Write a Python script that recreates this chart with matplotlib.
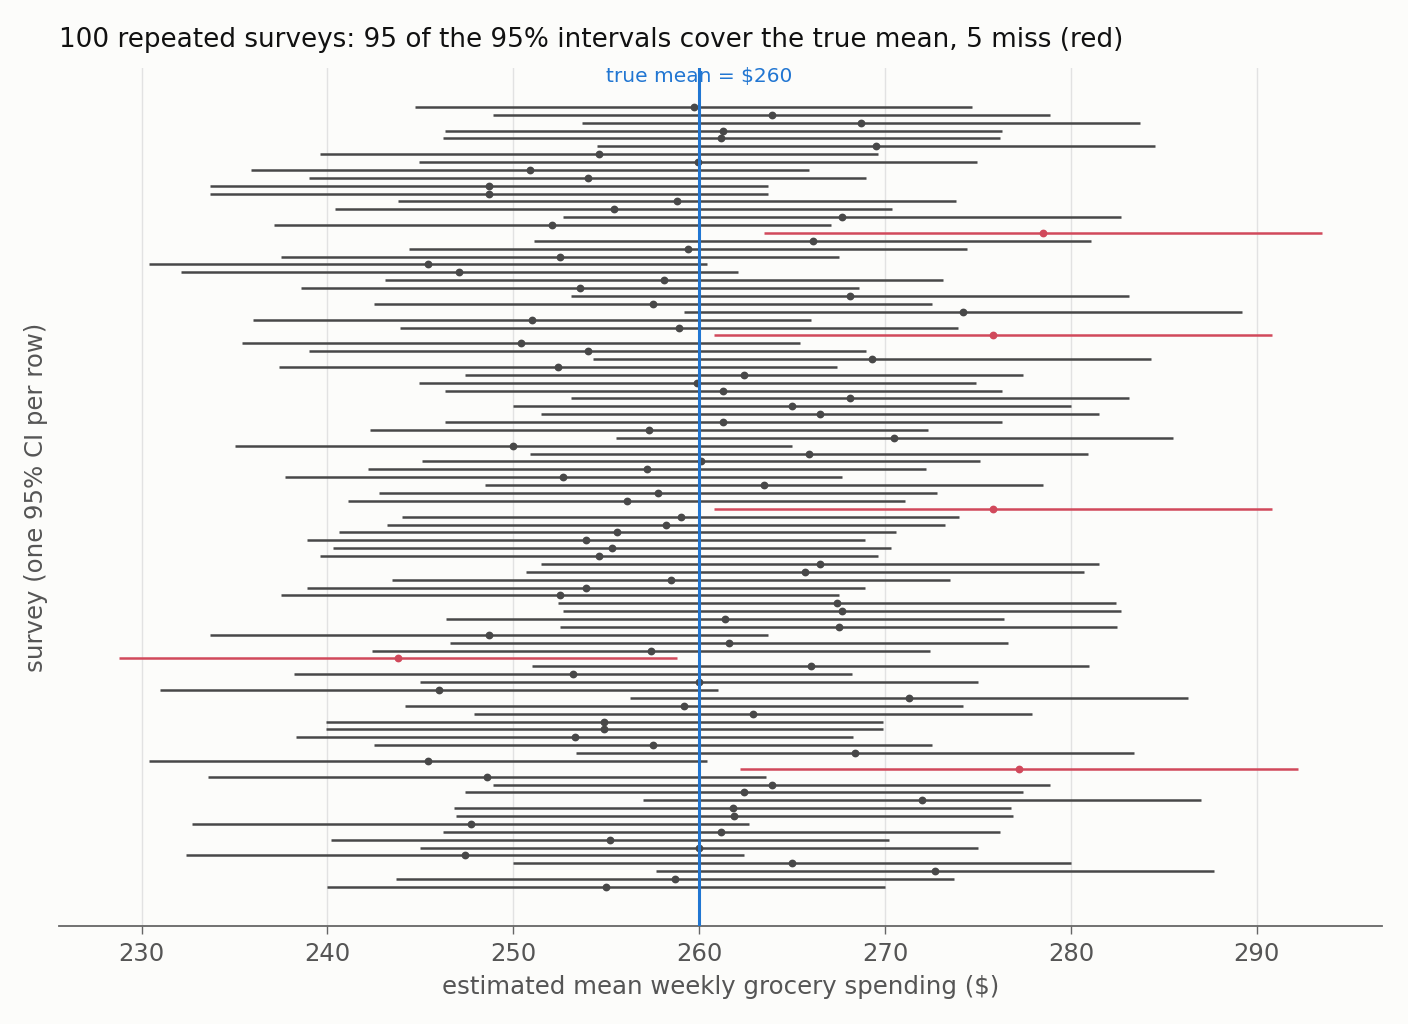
import matplotlib
matplotlib.use("Agg")
import matplotlib.pyplot as plt
import numpy as np

# point estimates of the 100 surveys, top row first
estimates = [
    259.7, 263.9, 268.7, 261.3, 261.2, 269.5, 254.6, 259.95, 250.9, 254.0,
    248.7, 248.7, 258.8, 255.4, 267.7, 252.1, 278.5, 266.1, 259.4, 252.5,
    245.4, 247.1, 258.1, 253.6, 268.1, 257.5, 274.2, 251.0, 258.9, 275.8,
    250.4, 254.0, 269.3, 252.4, 262.4, 259.9, 261.3, 268.1, 265.0, 266.5,
    261.3, 257.3, 270.5, 250.0, 265.9, 260.1, 257.2, 252.7, 263.5, 257.8,
    256.1, 275.8, 259.0, 258.2, 255.6, 253.9, 255.3, 254.6, 266.5, 265.7,
    258.5, 253.9, 252.5, 267.4, 267.7, 261.4, 267.5, 248.7, 261.6, 257.4,
    243.8, 266.0, 253.2, 260.0, 246.0, 271.3, 259.2, 262.9, 254.9, 254.9,
    253.3, 257.5, 268.4, 245.4, 277.2, 248.6, 263.9, 262.4, 272.0, 261.8,
    261.9, 247.7, 261.2, 255.2, 260.0, 247.4, 265.0, 272.7, 258.7, 255.0,
]
half_width = 15.0   # 95% CI half-width
true_mean = 260

est = np.array(estimates)
lo = est - half_width
hi = est + half_width
miss = (lo > true_mean) | (hi < true_mean)
rows = np.arange(len(est))

bg = "#fcfcfa"
grey = "#484848"
red = "#d1495b"
blue = "#2176d2"

fig = plt.figure(figsize=(14.08, 10.24), dpi=100, facecolor=bg)
ax = fig.add_axes([0.042, 0.0957, 0.9395, 0.838])
ax.set_facecolor(bg)

for i in rows:
    c = red if miss[i] else grey
    ax.plot([lo[i], hi[i]], [i, i], color=c, lw=1.8, solid_capstyle="butt", zorder=2)
    ax.plot(est[i], i, "o", color=c, ms=4.6, zorder=3)

ax.axvline(true_mean, color=blue, lw=2.2, zorder=4)
ax.text(true_mean, -3.8, "true mean = $260", color=blue, fontsize=14.5,
        ha="center", va="center")

ax.invert_yaxis()
ax.set_yticks([])
ax.set_xticks(np.arange(230, 291, 10))
ax.grid(axis="x", color="#e2e2e2", lw=1.0, zorder=0)
ax.set_axisbelow(True)
for s in ["top", "right", "left"]:
    ax.spines[s].set_visible(False)
ax.spines["bottom"].set_color("#666666")
ax.spines["bottom"].set_linewidth(1.3)
ax.tick_params(axis="x", colors="#666666", labelcolor="#555555", labelsize=17.5,
               length=6, width=1.0, pad=5.5)

ax.set_xlabel("estimated mean weekly grocery spending ($)", fontsize=17.6,
              color="#555555", labelpad=6.5)
ax.set_ylabel("survey (one 95% CI per row)", fontsize=17.6, color="#555555",
              labelpad=8)
ax.set_title("100 repeated surveys: 95 of the 95% intervals cover the true mean, 5 miss (red)",
             loc="left", fontsize=18.9, color="#111111", pad=15)

fig.savefig("out.png", dpi=100, facecolor=bg)
